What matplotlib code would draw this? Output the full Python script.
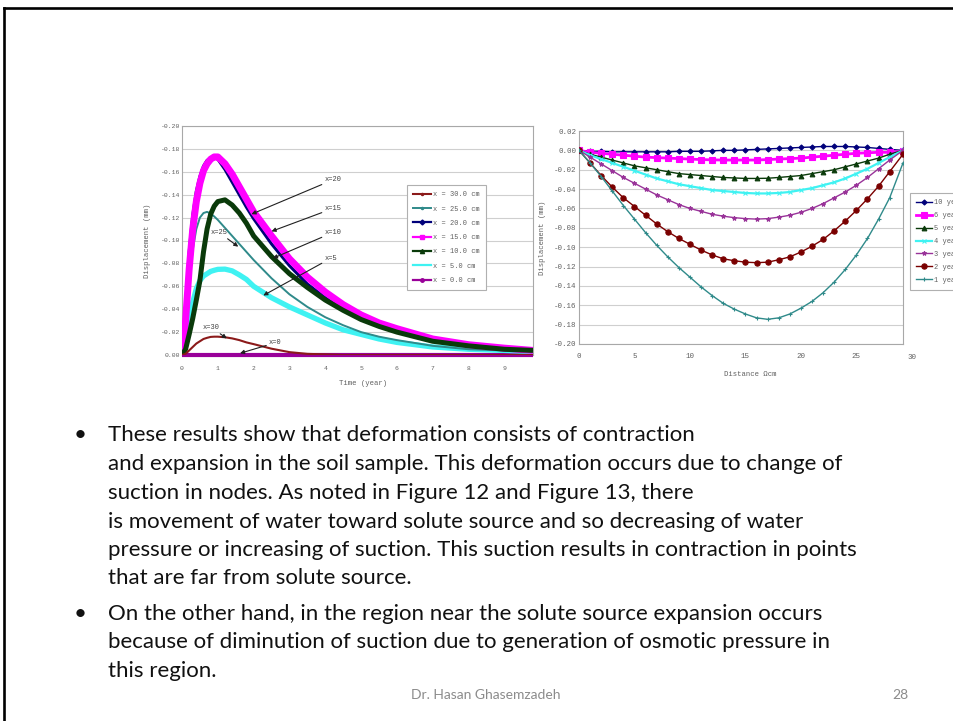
import matplotlib

matplotlib.use("Agg")
import matplotlib.pyplot as plt  # noqa: E402
from matplotlib.lines import Line2D  # noqa: E402

# ---- left chart: displacement vs time at several depths ----
time = [0.0, 0.1, 0.2, 0.3, 0.4, 0.5, 0.6, 0.7, 0.8, 0.9, 1.0, 1.2, 1.4, 1.6,
        1.8, 2.0, 2.5, 3.0, 3.5, 4.0, 4.5, 5.0, 5.5, 6.0, 7.0, 8.0, 9.0, 9.8]
disp_x30 = [0, -0.001, -0.004, -0.007, -0.010, -0.012, -0.014, -0.015, -0.0158,
            -0.016, -0.016, -0.0155, -0.0145, -0.013, -0.011, -0.0095, -0.0055,
            -0.0025, -0.001, -0.0005, 0, 0, 0, 0, 0, 0, 0, 0]
disp_x25 = [0, -0.030, -0.065, -0.092, -0.110, -0.120, -0.124, -0.125, -0.1235,
            -0.121, -0.118, -0.111, -0.104, -0.097, -0.090, -0.083, -0.067,
            -0.053, -0.042, -0.033, -0.026, -0.020, -0.016, -0.013, -0.008,
            -0.005, -0.004, -0.003]
disp_x20 = [0, -0.040, -0.090, -0.122, -0.143, -0.156, -0.165, -0.170, -0.172,
            -0.1725, -0.171, -0.162, -0.151, -0.140, -0.129, -0.119, -0.097,
            -0.078, -0.062, -0.050, -0.040, -0.032, -0.026, -0.021, -0.013,
            -0.008, -0.005, -0.004]
disp_x15 = [0, -0.030, -0.075, -0.110, -0.134, -0.150, -0.161, -0.167, -0.171,
            -0.173, -0.173, -0.167, -0.158, -0.147, -0.136, -0.125, -0.104,
            -0.084, -0.068, -0.055, -0.044, -0.035, -0.028, -0.023, -0.014,
            -0.009, -0.006, -0.004]
disp_x10 = [0, -0.005, -0.018, -0.032, -0.048, -0.065, -0.090, -0.110, -0.123,
            -0.130, -0.134, -0.1355, -0.131, -0.124, -0.115, -0.104, -0.086,
            -0.071, -0.059, -0.048, -0.039, -0.031, -0.025, -0.020, -0.012,
            -0.008, -0.005, -0.004]
disp_x5 = [0, -0.012, -0.030, -0.046, -0.058, -0.065, -0.069, -0.071, -0.073,
           -0.074, -0.0748, -0.075, -0.0735, -0.070, -0.066, -0.060, -0.050,
           -0.042, -0.035, -0.028, -0.022, -0.018, -0.014, -0.011, -0.007,
           -0.005, -0.004, -0.003]
disp_x0 = [0] * len(time)
depth_labels = ["x = 30.0 cm", "x = 25.0 cm", "x = 20.0 cm", "x = 15.0 cm",
                "x = 10.0 cm", "x = 5.0 cm", "x = 0.0 cm"]
time_ticks = [0, 1, 2, 3, 4, 5, 6, 7, 8, 9]
left_yticks = [0.0, -0.02, -0.04, -0.06, -0.08, -0.10, -0.12, -0.14, -0.16,
               -0.18, -0.20]

# ---- right chart: displacement profile at several times ----
dist = [0, 1, 2, 3, 4, 5, 6, 7, 8, 9, 10, 11, 12, 13, 14, 15, 16, 17, 18, 19,
        20, 21, 22, 23, 24, 25, 26, 27, 28, 29.2]
prof_10y = [0, -0.001, -0.001, -0.0015, -0.0015, -0.0015, -0.0015, -0.0015,
            -0.0015, -0.001, -0.001, -0.001, -0.0005, 0, 0, 0.0005, 0.001,
            0.0015, 0.002, 0.0025, 0.003, 0.0035, 0.004, 0.004, 0.004, 0.0035,
            0.003, 0.002, 0.001, 0]
prof_6y = [0, -0.002, -0.003, -0.004, -0.005, -0.006, -0.007, -0.0075, -0.008,
           -0.0085, -0.009, -0.0095, -0.0098, -0.010, -0.010, -0.010, -0.010,
           -0.0095, -0.009, -0.0085, -0.008, -0.007, -0.006, -0.005, -0.004,
           -0.003, -0.0025, -0.002, -0.002, -0.001]
prof_5y = [0, -0.004, -0.007, -0.010, -0.013, -0.016, -0.018, -0.020, -0.022,
           -0.024, -0.025, -0.026, -0.027, -0.028, -0.0285, -0.029, -0.029,
           -0.0288, -0.028, -0.027, -0.026, -0.024, -0.022, -0.020, -0.017,
           -0.014, -0.011, -0.008, -0.004, 0]
prof_4y = [0, -0.005, -0.009, -0.013, -0.017, -0.021, -0.025, -0.029, -0.032,
           -0.035, -0.037, -0.039, -0.041, -0.042, -0.043, -0.044, -0.0445,
           -0.0445, -0.044, -0.043, -0.041, -0.039, -0.036, -0.033, -0.029,
           -0.024, -0.019, -0.013, -0.007, 0]
prof_3y = [0, -0.007, -0.014, -0.021, -0.028, -0.034, -0.040, -0.046, -0.051,
           -0.056, -0.060, -0.063, -0.066, -0.068, -0.0695, -0.0705, -0.071,
           -0.0705, -0.069, -0.067, -0.064, -0.060, -0.055, -0.049, -0.043,
           -0.036, -0.028, -0.019, -0.010, 0]
prof_2y = [0, -0.013, -0.026, -0.038, -0.049, -0.058, -0.067, -0.076, -0.084,
           -0.091, -0.097, -0.103, -0.108, -0.112, -0.114, -0.1155, -0.116,
           -0.1155, -0.113, -0.110, -0.105, -0.099, -0.092, -0.083, -0.073,
           -0.062, -0.050, -0.037, -0.022, -0.004]
prof_1y = [0, -0.013, -0.027, -0.042, -0.057, -0.071, -0.085, -0.098, -0.110,
           -0.121, -0.131, -0.141, -0.150, -0.158, -0.164, -0.169, -0.173,
           -0.1745, -0.173, -0.169, -0.163, -0.156, -0.147, -0.136, -0.123,
           -0.108, -0.091, -0.071, -0.049, -0.013]
year_labels = ["10 years", "6 years", "5 years", "4 years", "3 years",
               "2 years", "1 year"]
dist_ticks = [0, 5, 10, 15, 20, 25]
right_yticks = [0.02, 0.0, -0.02, -0.04, -0.06, -0.08, -0.10, -0.12, -0.14,
                -0.16, -0.18, -0.20]

bullet1 = ["These results show that deformation consists of contraction",
           "and expansion in the soil sample. This deformation occurs due to change of",
           "suction in nodes. As noted in Figure 12 and Figure 13, there",
           "is movement of water toward solute source and so decreasing of water",
           "pressure or increasing of suction. This suction results in contraction in points",
           "that are far from solute source."]
bullet2 = ["On the other hand, in the region near the solute source expansion occurs",
           "because of diminution of suction due to generation of osmotic pressure in",
           "this region."]

MONO = "Liberation Mono"
GRAY = "#606060"
W, H = 954, 721


def px_axes(fig, left, top, right, bottom):
    return fig.add_axes([left / W, 1 - bottom / H, (right - left) / W,
                         (bottom - top) / H])


def style_axes(ax, fs, pad_x, pad_y):
    for s in ax.spines.values():
        s.set_color("#A8A8A8")
        s.set_linewidth(0.8)
    ax.grid(axis="y", color="#CFCFCF", lw=0.8)
    ax.set_axisbelow(True)
    ax.tick_params(length=0, labelsize=fs, colors=GRAY)
    ax.tick_params(axis="x", pad=pad_x)
    ax.tick_params(axis="y", pad=pad_y)
    for lab in ax.get_xticklabels() + ax.get_yticklabels():
        lab.set_fontfamily(MONO)


fig = plt.figure(figsize=(W / 100, H / 100), dpi=100)

# slide frame
fig.add_artist(Line2D([4.5 / W, 1], [1 - 8 / H, 1 - 8 / H], color="black",
                      lw=1.9, transform=fig.transFigure))
fig.add_artist(Line2D([4.5 / W, 4.5 / W], [0, 1 - 8 / H], color="black",
                      lw=1.9, transform=fig.transFigure))

# ---------------- left chart ----------------
ax1 = px_axes(fig, 182, 126, 533, 355)
left_series = [
    (disp_x0, "#990099", 3.0, "o", 2.5),
    (disp_x5, "#3FF2F2", 3.8, "", 0),
    (disp_x25, "#2F8A8A", 1.4, ".", 3),
    (disp_x20, "#00007A", 2.2, "D", 2.5),
    (disp_x15, "#FF00FF", 5.0, "s", 3.5),
    (disp_x10, "#0A3A0A", 3.6, "^", 3),
    (disp_x30, "#8B1A1A", 1.5, ".", 3),
]
for vals, c, lw, m, ms in left_series:
    ax1.plot(time, vals, color=c, lw=lw, solid_capstyle="butt",
             clip_on=(vals is not disp_x0), zorder=3)
ax1.set_xlim(0, 9.8)
ax1.set_ylim(0.0, -0.20)
ax1.set_xticks(time_ticks)
ax1.set_yticks(left_yticks)
ax1.set_yticklabels([f"{v:.2f}" for v in left_yticks])
style_axes(ax1, 4.6, 8, 1)
ax1.set_xlabel("Time (year)", fontfamily=MONO, fontsize=5.2, color=GRAY)
ax1.xaxis.set_label_coords(0.516, -0.109)
ax1.set_ylabel("Displacement (mm)", fontfamily=MONO, fontsize=5.2, color=GRAY)
ax1.yaxis.set_label_coords(-0.089, 0.5)

legend_order = [6, 2, 3, 4, 5, 1, 0]   # 30, 25, 20, 15, 10, 5, 0 cm
handles = []
for i in legend_order:
    _, c, lw, m, ms = left_series[i]
    handles.append(Line2D([], [], color=c, lw=min(lw, 1.6), marker=m or None,
                          ms=ms))
leg1 = ax1.legend(handles, depth_labels, loc="upper left",
                  bbox_to_anchor=(0.64, 0.742), borderaxespad=0,
                  prop={"family": MONO, "size": 5.0}, fancybox=False,
                  edgecolor="#B0B0B0", framealpha=1, handlelength=2.6,
                  labelspacing=1.05, borderpad=0.9, handletextpad=0.3)
leg1.get_frame().set_linewidth(0.8)
for t in leg1.get_texts():
    t.set_color(GRAY)

arrow = dict(arrowstyle="-|>", color="#202020", lw=0.8, mutation_scale=6,
             shrinkA=0, shrinkB=0)
notes = [("x=20", (3.98, -0.153), (1.94, -0.123)),
         ("x=15", (3.98, -0.128), (2.50, -0.108)),
         ("x=10", (3.98, -0.107), (2.54, -0.0845)),
         ("x=5", (3.98, -0.0845), (2.27, -0.052)),
         ("x=25", (0.80, -0.107), (1.57, -0.0946)),
         ("x=30", (0.58, -0.024), (1.25, -0.0145)),
         ("x=0", (2.43, -0.0107), (1.62, -0.0015))]
for txt, xyt, xy in notes:
    ax1.annotate(txt, xy=xy, xytext=xyt, ha="left", va="center",
                 fontfamily=MONO, fontsize=5.0, color="#404040",
                 arrowprops=arrow, zorder=5)

# ---------------- right chart ----------------
ax2 = px_axes(fig, 579, 131, 903, 344)
right_series = [
    (prof_10y, "#00007A", "D", 2.6, 1.0),
    (prof_6y, "#FF00FF", "s", 3.8, 2.0),
    (prof_5y, "#0A3A0A", "^", 3.4, 1.0),
    (prof_4y, "#3FF2F2", "x", 2.5, 1.6),
    (prof_3y, "#993399", "*", 3.2, 1.0),
    (prof_2y, "#7A0000", "o", 3.8, 1.0),
    (prof_1y, "#2F8A8A", "+", 3.2, 1.0),
]
for (vals, c, m, ms, lw), lab in zip(right_series, year_labels):
    ax2.plot(dist, vals, color=c, marker=m, ms=ms, lw=lw, mew=0.8,
             label=lab, zorder=3)
ax2.set_xlim(0, 29.2)
ax2.set_ylim(-0.20, 0.02)
ax2.set_xticks(dist_ticks)
ax2.set_yticks(right_yticks)
ax2.set_yticklabels([f"{v:.2f}" for v in right_yticks])
style_axes(ax2, 5.4, 6.5, 2)
ax2.text(30, -0.062, "30", transform=ax2.get_xaxis_transform(), ha="center",
         va="center", fontfamily=MONO, fontsize=5.4, color=GRAY, clip_on=False)
ax2.set_xlabel("Distance \u03a9cm", fontfamily=MONO, fontsize=5.2, color=GRAY)
ax2.xaxis.set_label_coords(0.528, -0.125)
ax2.set_ylabel("Displacement (mm)", fontfamily=MONO, fontsize=5.2, color=GRAY)
ax2.yaxis.set_label_coords(-0.102, 0.5)
leg2 = ax2.legend(loc="upper left", bbox_to_anchor=(1.022, 0.709),
                  borderaxespad=0, prop={"family": MONO, "size": 5.0},
                  fancybox=False, edgecolor="#B0B0B0", framealpha=1,
                  handlelength=2.2, labelspacing=0.85, borderpad=0.9,
                  handletextpad=0.3)
leg2.get_frame().set_linewidth(0.8)
for t in leg2.get_texts():
    t.set_color(GRAY)

# ---------------- slide text ----------------
BODY = dict(family="Lato", fontsize=16, color="#111111", va="baseline")
base1 = [441.5, 470, 499, 527.7, 555.7, 584]
base2 = [620, 648.3, 676.7]
for lines, bases in ((bullet1, base1), (bullet2, base2)):
    fig.text(74 / W, 1 - bases[0] / H, "\u2022", **BODY)
    for line, b in zip(lines, bases):
        fig.text(108 / W, 1 - b / H, line, **BODY)
fig.text(486 / W, 1 - 699 / H, "Dr. Hasan Ghasemzadeh", family="Lato",
         fontsize=10, color="#8B8B8B", ha="center", va="baseline")
fig.text(908 / W, 1 - 699 / H, "28", family="Lato", fontsize=10,
         color="#8B8B8B", ha="right", va="baseline")

fig.savefig("out.png", dpi=100)
